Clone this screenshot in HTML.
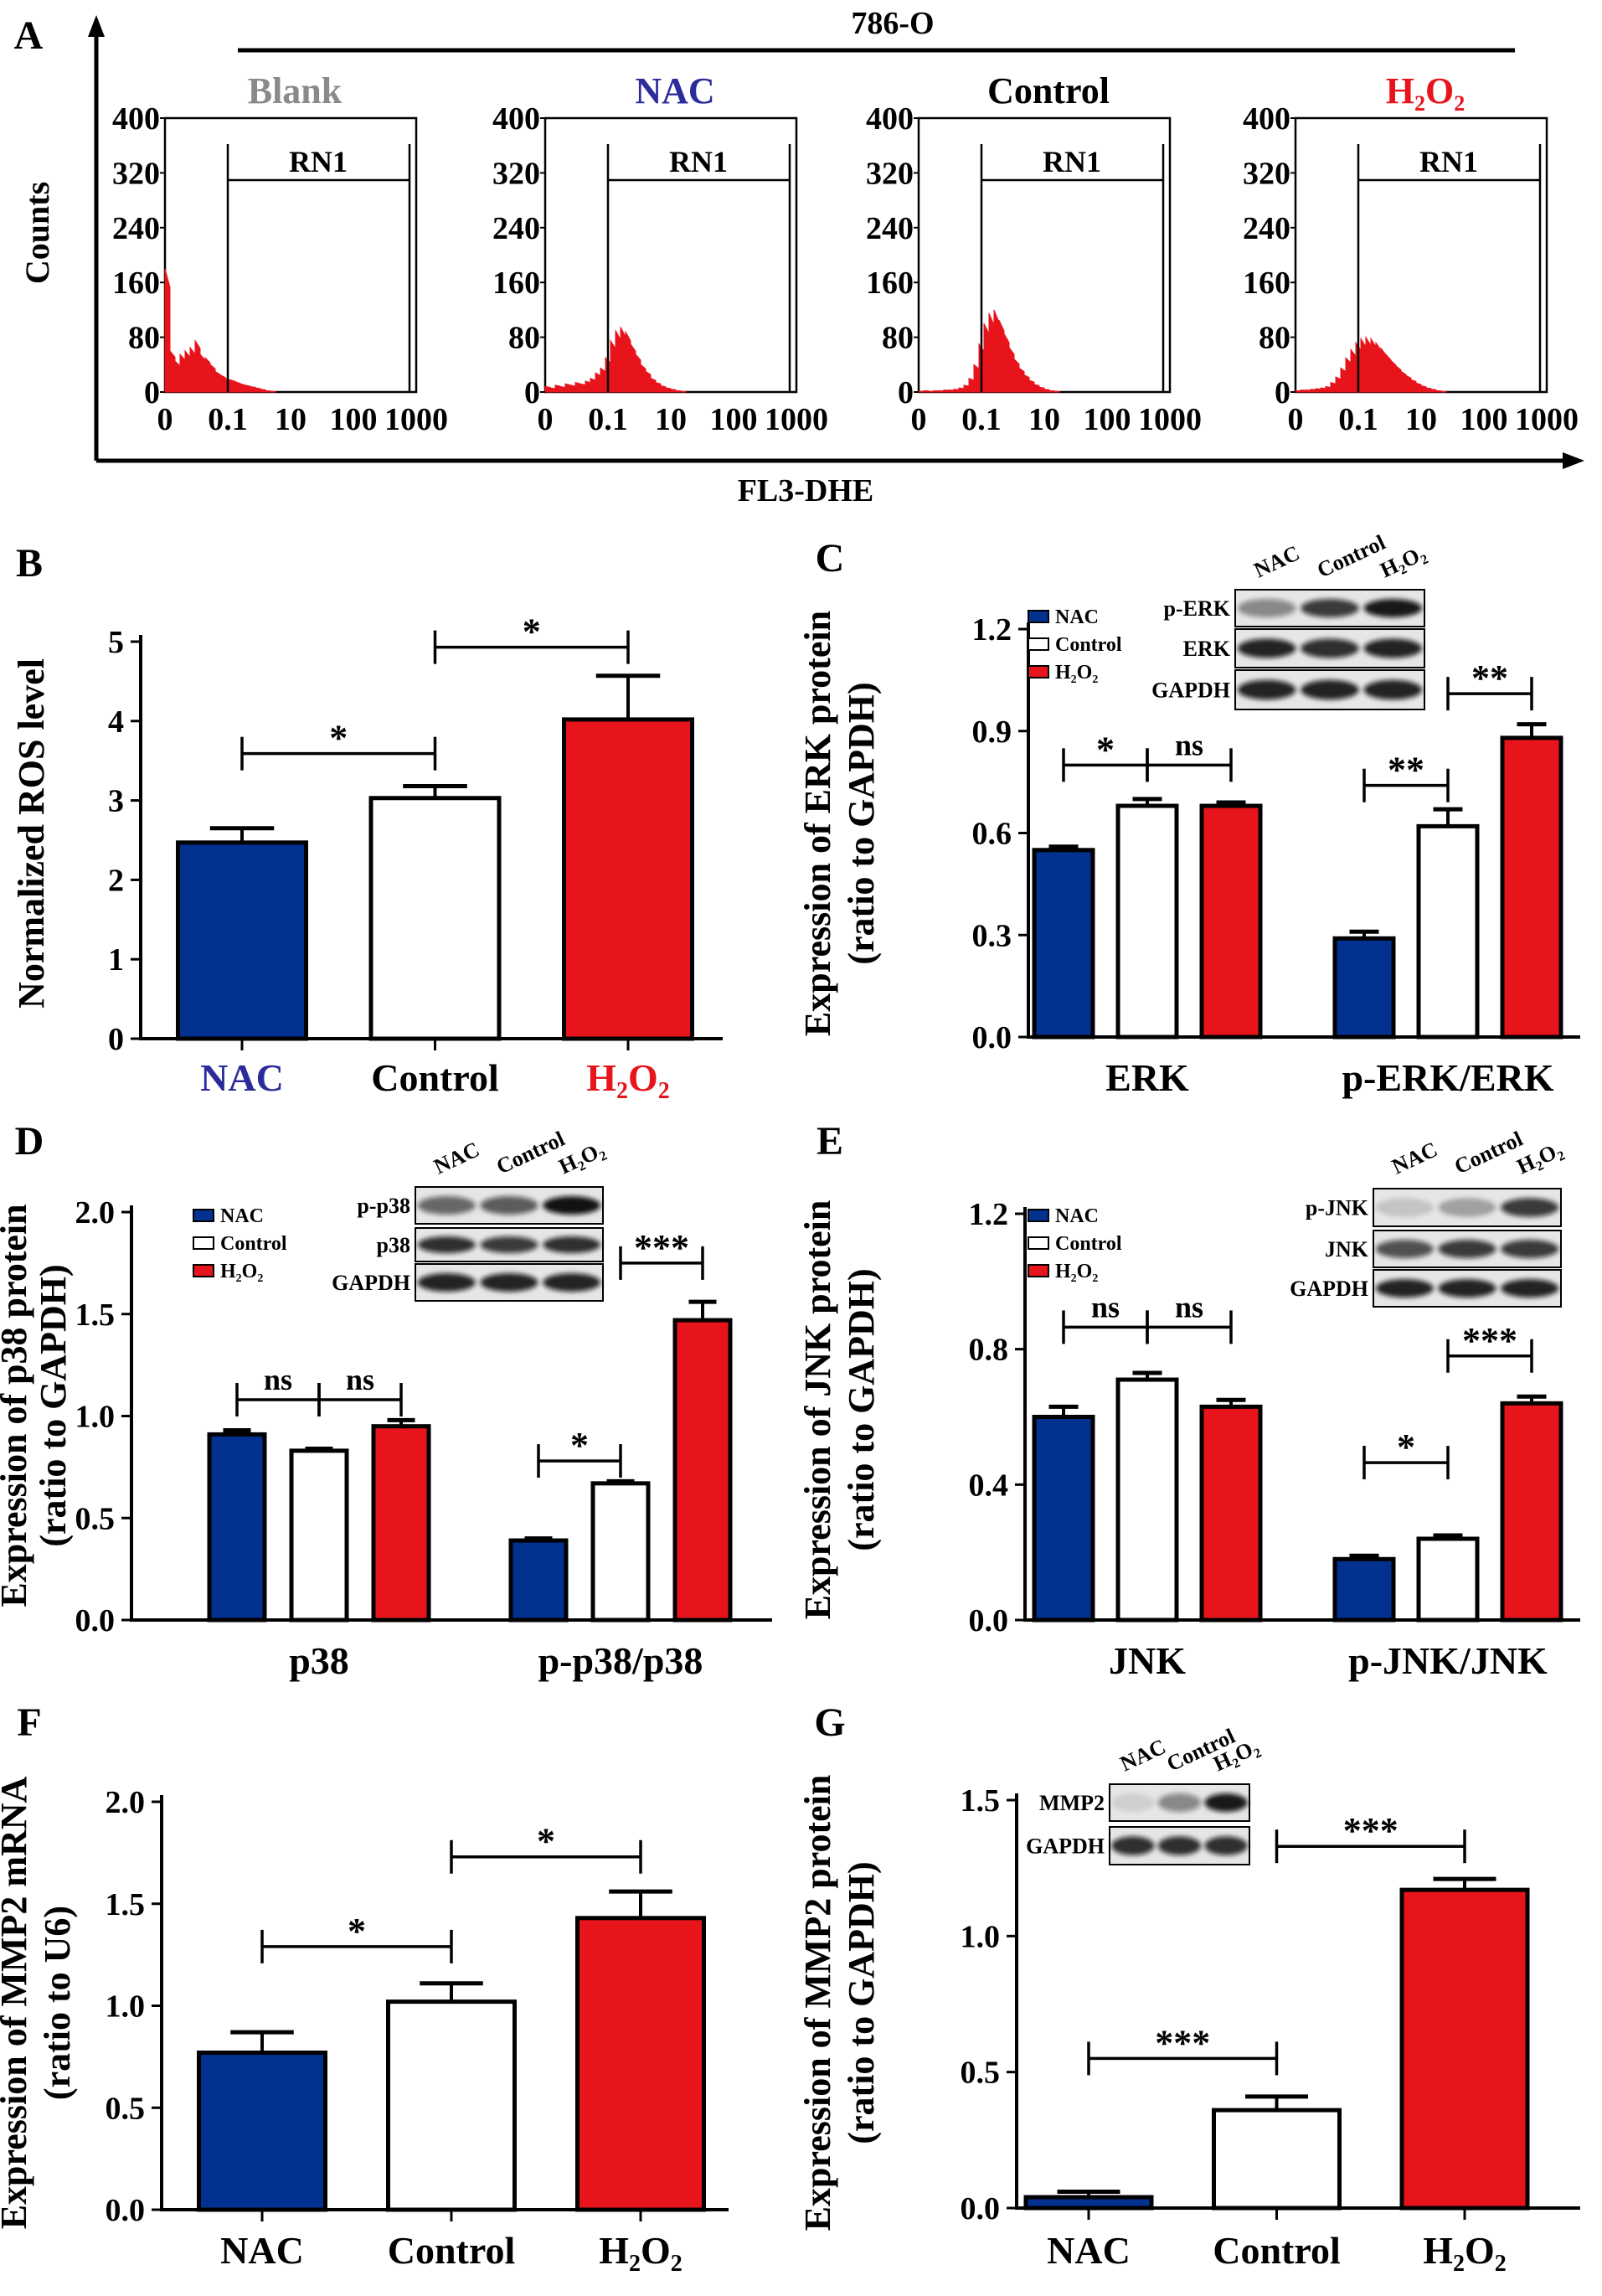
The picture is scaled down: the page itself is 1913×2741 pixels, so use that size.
<!DOCTYPE html>
<html><head><meta charset="utf-8">
<style>
html,body{margin:0;padding:0;background:#fff;}
svg{display:block;font-family:"Liberation Serif",serif;font-weight:bold;}
</style></head>
<body>
<svg id="fig" xmlns="http://www.w3.org/2000/svg" width="1913" height="2741" viewBox="0 0 1913 2741">
<defs><filter id="blur" x="-30%" y="-50%" width="160%" height="200%"><feGaussianBlur stdDeviation="3"/></filter></defs>
</svg>
<script>
// ---------- DATA ----------
const histBinsBlank=[180,60,45,55,60,65,75,55,50,40,30,25,20,18,15,12,10,8,6,4,2,1];
const histBinsNAC=[8,6,10,8,12,10,14,12,16,20,28,35,50,75,90,95,88,70,55,40,30,20,14,9,6,4,2,1];
const histBinsControl=[1,2,1,2,2,3,3,4,6,10,20,40,70,100,115,120,105,85,65,48,35,25,17,11,7,4,2,1];
const histBinsH2O2=[2,3,3,4,5,6,8,14,22,35,50,62,72,78,80,78,72,64,55,46,38,30,24,18,13,9,6,4,2,1];
const histTickLabels=["0","0.1","10","100","1000"];
const histYTicks=[0,80,160,240,320,400];

const bCategories=["NAC","Control","H2O2"];
const bValues=[2.47,3.03,4.02];
const bErrors=[0.18,0.15,0.55];
const bTicks=[0,1,2,3,4,5];

const cGroups=["ERK","p-ERK/ERK"];
const cNAC=[0.55,0.29], cControl=[0.68,0.62], cH2O2=[0.68,0.88];
const cNACerr=[0.01,0.02], cControlErr=[0.02,0.05], cH2O2err=[0.01,0.04];
const cTicks=[0,0.3,0.6,0.9,1.2];

const dGroups=["p38","p-p38/p38"];
const dNAC=[0.91,0.39], dControl=[0.83,0.67], dH2O2=[0.95,1.47];
const dNACerr=[0.02,0.01], dControlErr=[0.01,0.01], dH2O2err=[0.03,0.09];
const dTicks=[0,0.5,1.0,1.5,2.0];

const eGroups=["JNK","p-JNK/JNK"];
const eNAC=[0.60,0.18], eControl=[0.71,0.24], eH2O2=[0.63,0.64];
const eNACerr=[0.03,0.01], eControlErr=[0.02,0.01], eH2O2err=[0.02,0.02];
const eTicks=[0,0.4,0.8,1.2];

const fValues=[0.77,1.02,1.43];
const fErrors=[0.10,0.09,0.13];
const fTicks=[0,0.5,1.0,1.5,2.0];

const gValues=[0.04,0.36,1.17];
const gErrors=[0.02,0.05,0.04];
const gTicks=[0,0.5,1.0,1.5];

// ---------- HELPERS ----------
const NS="http://www.w3.org/2000/svg";
const svg=document.getElementById('fig');
const BLUE="#03318f", RED="#e8141c", WHITE="#ffffff";
function mk(tag,attrs,name,parent){
  const el=document.createElementNS(NS,tag);
  for(const k in attrs) el.setAttribute(k,attrs[k]);
  
  
  (parent||svg).appendChild(el);
  return el;
}
function line(x1,y1,x2,y2,w,name,col){return mk('line',{x1,y1,x2,y2,stroke:col||'#000','stroke-width':w||4},name);}
function txt(x,y,s,size,name,opt){
  opt=opt||{};
  const a={x,y,'font-size':size,'text-anchor':opt.anchor||'middle',fill:opt.fill||'#000'};
  if(opt.rot) a.transform='rotate('+opt.rot+' '+x+' '+y+')';
  const t=mk('text',a,name);
  if(s==="H2O2"){
    const sub=Math.round(size*0.6);
    t.innerHTML='H<tspan dy="'+(size*0.2)+'" font-size="'+sub+'">2</tspan><tspan dy="'+(-size*0.2)+'">O</tspan><tspan dy="'+(size*0.2)+'" font-size="'+sub+'">2</tspan>';
  } else t.textContent=s;
  return t;
}
function catColor(c){return c==="NAC"?"#2b2b9c":(c==="H2O2"?RED:"#000");}

// ---------- PANEL A ----------
txt(34,58,"A",48,"panel-a-label");
txt(1066,40,"786-O",38,"cell-line-title");
line(284,60,1809,60,5,"cell-line-bar");
line(115,40,115,550,5,"a-y-axis");
mk('polygon',{points:"105,44 115,18 125,44",fill:'#000'},"a-y-arrow");
line(115,550,1870,550,5,"a-x-axis");
mk('polygon',{points:"1866,540 1892,550 1866,560",fill:'#000'},"a-x-arrow");
txt(58,278,"Counts",40,"a-y-title",{rot:-90});
txt(962,598,"FL3-DHE",38,"a-x-title");
const hists=[["Blank",histBinsBlank,"#8a8a8a",197],["NAC",histBinsNAC,"#2b2b9c",651],["Control",histBinsControl,"#000",1097],["H2O2",histBinsH2O2,RED,1547]];
const boxTop=141, boxBot=468, boxW=300, binW=6;
hists.forEach(h=>{
  const L=h[3], nm=h[0].toLowerCase();
  const ys=v=>boxBot-v/400*(boxBot-boxTop);
  txt(L+155,123,h[0],44,"hist-title-"+nm,{fill:h[2]});
  mk('rect',{x:L,y:boxTop,width:boxW,height:boxBot-boxTop,fill:'none',stroke:'#000','stroke-width':2.5},"hist-frame-"+nm);
  let d="M"+L+" "+boxBot;
  h[1].forEach((v,i)=>{const x0=L+i*binW;d+=" L"+x0+" "+ys(v)+" L"+(x0+binW)+" "+ys(v*0.85);});
  d+=" L"+(L+h[1].length*binW)+" "+boxBot+" Z";
  mk('path',{d,fill:RED,stroke:RED,'stroke-width':1},"histogram-"+nm);
  histYTicks.forEach(t=>{line(L-6,ys(t),L,ys(t),2,"hist-ytick");txt(L-6,ys(t)+13,String(t),38,"hist-ytick-label",{anchor:'end'});});
  histTickLabels.forEach((t,i)=>{txt(L+i*boxW/4,513,t,38,"hist-xtick-label");});
  line(L+75,172,L+75,boxBot,2.5,"gate-left-"+nm);
  line(L+292,172,L+292,boxBot,2.5,"gate-right-"+nm);
  line(L+75,215,L+292,215,2.5,"gate-bar-"+nm);
  txt(L+183,205,"RN1",36,"gate-label-"+nm);
});

// ---------- BAR CHART ENGINE ----------
function axes(c){
  const ys=v=>c.y0-v/c.max*(c.y0-c.yTop);
  line(c.ax,c.yTop-8,c.ax,c.y0+2,4,c.id+"-y-axis");
  line(c.ax,c.y0,c.xEnd,c.y0,4,c.id+"-x-axis");
  c.ticks.forEach(t=>{line(c.ax-12,ys(t),c.ax,ys(t),3,c.id+"-ytick");
    txt(c.ax-20,ys(t)+13,c.dec?t.toFixed(1):String(t),38,c.id+"-ytick-label",{anchor:'end'});});
  return ys;
}
function bar(cx,w,v,e,col,ys,y0,name){
  line(cx,ys(v),cx,ys(v+e),4,name+"-error");
  line(cx-w*0.25,ys(v+e),cx+w*0.25,ys(v+e),5,name+"-error-cap");
  mk('rect',{x:cx-w/2,y:ys(v),width:w,height:y0-ys(v),fill:col,stroke:'#000','stroke-width':5},name);
}
function bracket(x1,x2,lv,lab,ys,name){
  const y=ys(lv);
  line(x1,y,x2,y,3.5,name);
  line(x1,y-20,x1,y+20,3.5,name+"-tick");
  line(x2,y-20,x2,y+20,3.5,name+"-tick");
  txt((x1+x2)/2,y-(lab==="ns"?12:4),lab,lab==="ns"?36:44,name+"-label");
}
function ylab(x1,x2,y,l1,l2,id){
  txt(x1,y,l1,44,id+"-y-title",{rot:-90});
  if(l2) txt(x2,y,l2,44,id+"-y-title-2",{rot:-90});
}
function legend(x,y,id){
  [["NAC",BLUE],["Control",WHITE],["H2O2",RED]].forEach((p,i)=>{
    mk('rect',{x,y:y+i*33-8,width:24,height:14,fill:p[1],stroke:'#000','stroke-width':2},id+"-legend-swatch");
    txt(x+32,y+i*33+7,p[0],24,id+"-legend-entry",{anchor:'start'});
  });
}
function blot(x,w,rows,labels,bands,id,colLabY){
  const cols=["NAC","Control","H2O2"];
  rows.forEach((r,i)=>{
    mk('rect',{x,y:r[0],width:w,height:r[1]-r[0],fill:'#e6e6e6',stroke:'#000','stroke-width':2},id+"-blot-row");
    txt(x-6,(r[0]+r[1])/2+9,labels[i],26,id+"-blot-label",{anchor:'end'});
    bands[i].forEach((k,j)=>{
      const cx=x+w*(j+0.5)/3;
      mk('ellipse',{cx,cy:(r[0]+r[1])/2,rx:w/6.5,ry:(r[1]-r[0])*0.25,fill:'#111','fill-opacity':k,filter:'url(#blur)'},id+"-band");
    });
  });
  cols.forEach((c,j)=>{
    const cx=x+w*(j+0.5)/3-10;
    txt(cx,colLabY,c,26,id+"-lane-label",{anchor:'start',rot:-25});
  });
}
const colors=[BLUE,WHITE,RED];

// ---------- PANEL B ----------
txt(35,688,"B",48,"panel-b-label");
(function(){
  const c={id:'b',ax:168,y0:1240,yTop:766,max:5,xEnd:863,ticks:bTicks};
  const ys=axes(c);
  const cx=i=>289+i*230.5;
  bValues.forEach((v,i)=>{bar(cx(i),153,v,bErrors[i],colors[i],ys,c.y0,"bar-b-"+bCategories[i].toLowerCase());
    line(cx(i),c.y0,cx(i),c.y0+14,3,"b-xtick");
    txt(cx(i),1302,bCategories[i],46,"b-category-label",{fill:catColor(bCategories[i])});});
  bracket(cx(0),cx(1),3.59,"*",ys,"b-sig-nac-control");
  bracket(cx(1),cx(2),4.93,"*",ys,"b-sig-control-h2o2");
  ylab(52,0,995,"Normalized ROS level",null,'b');
})();

// ---------- GROUPED PANELS ----------
function grouped(c,groups,s0,s1,s2,e0,e1,e2,sigs){
  const ys=axes(c);
  const series=[s0,s1,s2], errs=[e0,e1,e2];
  const cx=(g,i)=>c.g0+g*c.gs+(i-1)*c.bo;
  groups.forEach((gname,g)=>{
    series.forEach((s,i)=>bar(cx(g,i),c.bw,s[g],errs[i][g],colors[i],ys,c.y0,"bar-"+c.id+"-"+gname.toLowerCase()+"-"+i));
    txt(c.g0+g*c.gs,c.y0+64,gname,46,c.id+"-group-label");
  });
  sigs.forEach((s,k)=>bracket(cx(s[0],s[1]),cx(s[0],s[2]),s[3],s[4],ys,c.id+"-sig-"+k));
}
txt(991,682,"C",48,"panel-c-label");
grouped({id:'c',ax:1228,y0:1238,yTop:751,max:1.2,xEnd:1887,ticks:cTicks,dec:true,g0:1370,gs:359,bo:100,bw:70},
  cGroups,cNAC,cControl,cH2O2,cNACerr,cControlErr,cH2O2err,
  [[0,0,1,0.80,"*"],[0,1,2,0.80,"ns"],[1,0,1,0.74,"**"],[1,1,2,1.01,"**"]]);
ylab(991,1043,983,"Expression of ERK protein","(ratio to GAPDH)",'c');
legend(1228,737,'c');
blot(1475,226,[[704,748],[751,797],[800,847]],["p-ERK","ERK","GAPDH"],[[0.45,0.8,0.95],[0.9,0.85,0.9],[0.9,0.9,0.9]],'c',690);

txt(35,1378,"D",48,"panel-d-label");
grouped({id:'d',ax:157,y0:1934,yTop:1447,max:2.0,xEnd:922,ticks:dTicks,dec:true,g0:381,gs:360,bo:98,bw:66},
  dGroups,dNAC,dControl,dH2O2,dNACerr,dControlErr,dH2O2err,
  [[0,0,1,1.08,"ns"],[0,1,2,1.08,"ns"],[1,0,1,0.78,"*"],[1,1,2,1.75,"***"]]);
ylab(31,78,1678,"Expression of p38 protein","(ratio to GAPDH)",'d');
legend(231,1452,'d');
blot(496,224,[[1417,1461],[1466,1506],[1509,1553]],["p-p38","p38","GAPDH"],[[0.6,0.65,0.98],[0.85,0.8,0.85],[0.9,0.9,0.9]],'d',1402);

txt(991,1378,"E",48,"panel-e-label");
grouped({id:'e',ax:1224,y0:1934,yTop:1449,max:1.2,xEnd:1887,ticks:eTicks,dec:true,g0:1370,gs:359,bo:100,bw:70},
  eGroups,eNAC,eControl,eH2O2,eNACerr,eControlErr,eH2O2err,
  [[0,0,1,0.865,"ns"],[0,1,2,0.865,"ns"],[1,0,1,0.465,"*"],[1,1,2,0.78,"***"]]);
ylab(991,1043,1683,"Expression of JNK protein","(ratio to GAPDH)",'e');
legend(1228,1452,'e');
blot(1640,224,[[1419,1464],[1469,1513],[1516,1560]],["p-JNK","JNK","GAPDH"],[[0.15,0.3,0.8],[0.7,0.8,0.8],[0.9,0.9,0.9]],'e',1402);

// ---------- PANEL F ----------
txt(35,2072,"F",48,"panel-f-label");
(function(){
  const c={id:'f',ax:193,y0:2638,yTop:2151,max:2.0,xEnd:870,ticks:fTicks,dec:true};
  const ys=axes(c);
  const cx=i=>313+i*226;
  fValues.forEach((v,i)=>{bar(cx(i),151,v,fErrors[i],colors[i],ys,c.y0,"bar-f-"+bCategories[i].toLowerCase());
    line(cx(i),c.y0,cx(i),c.y0+14,3,"f-xtick");
    txt(cx(i),2702,bCategories[i],46,"f-category-label");});
  bracket(cx(0),cx(1),1.29,"*",ys,"f-sig-nac-control");
  bracket(cx(1),cx(2),1.73,"*",ys,"f-sig-control-h2o2");
  ylab(31,83,2391,"Expression of MMP2 mRNA","(ratio to U6)",'f');
})();

// ---------- PANEL G ----------
txt(991,2072,"G",48,"panel-g-label");
(function(){
  const c={id:'g',ax:1214,y0:2636,yTop:2149,max:1.5,xEnd:1887,ticks:gTicks,dec:true};
  const ys=axes(c);
  const cx=i=>1300+i*224.5;
  gValues.forEach((v,i)=>{bar(cx(i),150,v,gErrors[i],colors[i],ys,c.y0,"bar-g-"+bCategories[i].toLowerCase());
    line(cx(i),c.y0,cx(i),c.y0+14,3,"g-xtick");
    txt(cx(i),2702,bCategories[i],46,"g-category-label");});
  bracket(cx(0),cx(1),0.55,"***",ys,"g-sig-nac-control");
  bracket(cx(1),cx(2),1.33,"***",ys,"g-sig-control-h2o2");
  ylab(991,1043,2391,"Expression of MMP2 protein","(ratio to GAPDH)",'g');
  blot(1325,167,[[2130,2174],[2181,2226]],["MMP2","GAPDH"],[[0.1,0.45,0.95],[0.85,0.85,0.85]],'g',2115);
})();
</script>
</body></html>
